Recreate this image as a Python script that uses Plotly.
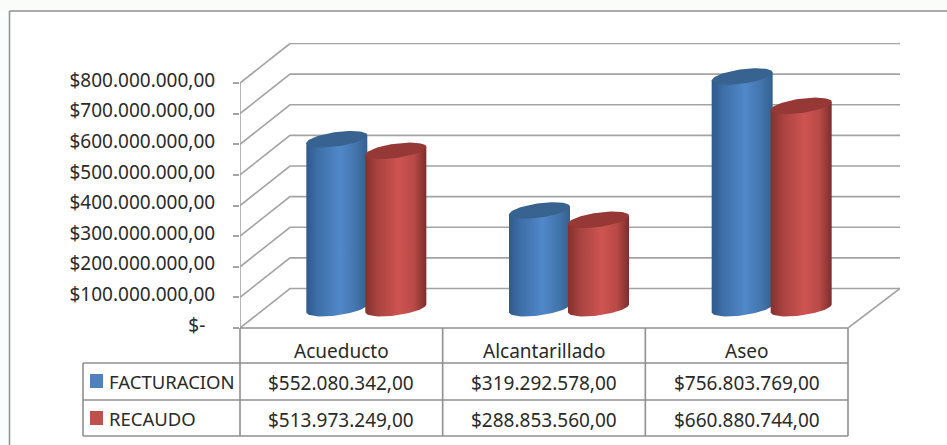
import numpy as np
import plotly.graph_objects as go

categories = ['Acueducto', 'Alcantarillado', 'Aseo']
facturacion = [552080342, 319292578, 756803769]
recaudo = [513973249, 288853560, 660880744]
tick_vals = [0, 100000000, 200000000, 300000000, 400000000,
             500000000, 600000000, 700000000, 800000000]

W, H = 947, 445
LEFT, RIGHT, TOP, FRONT = 240, 900, 43, 328    # plot box in pixels
FONT = 'Noto Sans'
TEXT_SIZE = 19
TEXT_COLOR = '#2a2a2a'
GRID = '#a3a3a3'
FRAME = '#8f8f8f'

# scales: 3 categories over the front edge, 800M over 245 px
X_PX = (848 - LEFT) / 3
Y_PX = 800000000 / 245
DEPTH_X = 50 / X_PX
DEPTH_Y = 39.5 * Y_PX
X_MAX = (RIGHT - LEFT) / X_PX
Y_MAX = (FRONT - TOP) * Y_PX


def money(v):
    s = f'{v:,.2f}'
    return '$' + s.replace(',', '#').replace('.', ',').replace('#', '.')


def paper_x(px):
    return (px - LEFT) / (RIGHT - LEFT)


def paper_y(py):
    return (FRONT - py) / (FRONT - TOP)


def cylinder(fig, center, value, name, shades, top_color):
    # bars stand at mid depth of the floor, ellipse tilted up to the right
    a = 30.5 / X_PX
    b = 7.2 * Y_PX
    tilt = 4.0 * Y_PX
    cx = center + DEPTH_X / 2
    base = DEPTH_Y / 2
    t = np.linspace(0, 2 * np.pi, 81)
    ex = a * np.cos(t)
    ey = b * np.sin(t) + tilt * np.cos(t)

    # lower half of the base ellipse (right to left), then up over the top
    lower = np.linspace(0, -np.pi, 41)
    body_x = cx + a * np.cos(lower)
    body_y = base + b * np.sin(lower) + tilt * np.cos(lower)
    body_x = np.concatenate([body_x, [cx - a, cx + a, cx + a]])
    body_y = np.concatenate([body_y, [base + value - tilt, base + value + tilt, base + tilt]])

    fig.add_trace(go.Scatter(
        x=body_x, y=body_y, mode='lines', name=name, fill='toself',
        line=dict(width=0), fillcolor=shades[2][1],
        fillgradient=dict(type='horizontal', colorscale=shades),
        hoverinfo='skip', showlegend=False
    ))
    fig.add_trace(go.Scatter(
        x=cx + ex, y=base + value + ey, mode='lines', name=name, fill='toself',
        line=dict(width=0), fillcolor=top_color,
        hoverinfo='skip', showlegend=False
    ))


blue_shades = [[0, '#2f5a8c'], [0.2, '#3e70a8'], [0.55, '#5088ca'],
               [0.8, '#4476ae'], [1, '#34608f']]
red_shades = [[0, '#84302f'], [0.2, '#a84340'], [0.55, '#ce5451'],
              [0.8, '#b84a47'], [1, '#7d2d2c']]

fig = go.Figure()

# walls and gridlines
grid_x, grid_y = [], []
for v in tick_vals:
    grid_x += [0, DEPTH_X, X_MAX, None]
    grid_y += [v, v + DEPTH_Y, v + DEPTH_Y, None]
grid_x += [0, 0, None, 3, X_MAX]
grid_y += [0, tick_vals[-1], None, 0, DEPTH_Y]
fig.add_trace(go.Scatter(
    x=grid_x, y=grid_y, mode='lines', line=dict(color=GRID, width=1.6),
    cliponaxis=False, hoverinfo='skip', showlegend=False
))

# cylinders
for i in range(len(categories)):
    offset = 29.5 / X_PX
    cylinder(fig, i + 0.5 - offset, facturacion[i], 'FACTURACION', blue_shades, '#38628f')
    cylinder(fig, i + 0.5 + offset, recaudo[i], 'RECAUDO', red_shades, '#953836')

# data table under the plot
row_y = [FRONT, 363, 400, 436]
col_x = [LEFT + X_PX * i for i in range(4)]
shapes = [
    dict(type='rect', xref='paper', yref='paper', x0=paper_x(0), x1=paper_x(9),
         y0=paper_y(0), y1=paper_y(H), fillcolor='#f9fdfd', line_width=0, layer='below'),
    dict(type='rect', xref='paper', yref='paper', x0=paper_x(0), x1=paper_x(W),
         y0=paper_y(0), y1=paper_y(10), fillcolor='#fafcfa', line_width=0, layer='below'),
    dict(type='line', xref='paper', yref='paper', x0=paper_x(9.5), x1=paper_x(9.5),
         y0=paper_y(11), y1=paper_y(H), line=dict(color=FRAME, width=1.5)),
    dict(type='line', xref='paper', yref='paper', x0=paper_x(9.5), x1=paper_x(W),
         y0=paper_y(11), y1=paper_y(11), line=dict(color=FRAME, width=1.5)),
]


def table_line(x0, y0, x1, y1):
    shapes.append(dict(type='line', xref='paper', yref='paper', x0=paper_x(x0), x1=paper_x(x1),
                       y0=paper_y(y0), y1=paper_y(y1), line=dict(color=FRAME, width=1.6)))


table_line(LEFT, row_y[0], col_x[3], row_y[0])
table_line(83, row_y[1], col_x[3], row_y[1])
table_line(83, row_y[2], col_x[3], row_y[2])
table_line(83, row_y[3], col_x[3], row_y[3])
table_line(83, row_y[1], 83, row_y[3])
for cx in col_x:
    table_line(cx, row_y[0], cx, row_y[3])

annotations = []


def cell(px, py, text, anchor='center', size=TEXT_SIZE):
    annotations.append(dict(
        x=paper_x(px), y=paper_y(py), xref='paper', yref='paper', text=text,
        showarrow=False, xanchor=anchor, yanchor='middle',
        font=dict(family=FONT, size=size, color=TEXT_COLOR)
    ))


for i, name in enumerate(categories):
    center = col_x[i] + X_PX / 2
    cell(center, 351, name)
    cell(center, 383, money(facturacion[i]))
    cell(center, 420, money(recaudo[i]))

# legend keys sit inside the table
for py, color, label in [(381, '#4f81bd', 'FACTURACION'), (418, '#c0504d', 'RECAUDO')]:
    shapes.append(dict(type='rect', xref='paper', yref='paper', x0=paper_x(90), x1=paper_x(103),
                       y0=paper_y(py - 7), y1=paper_y(py + 7), fillcolor=color, line_width=0))
    cell(107, py, label, anchor='left', size=18.5)

fig.update_layout(
    width=W,
    height=H,
    margin=dict(l=LEFT, r=W - RIGHT, t=TOP, b=H - FRONT, pad=0),
    paper_bgcolor='white',
    plot_bgcolor='white',
    showlegend=False,
    shapes=shapes,
    annotations=annotations,
    xaxis=dict(range=[0, X_MAX], visible=False, fixedrange=True),
    yaxis=dict(
        range=[0, Y_MAX],
        tickmode='array',
        tickvals=tick_vals,
        ticktext=['$-\u00a0\u00a0'] + [money(v) for v in tick_vals[1:]],
        ticks='outside',
        ticklen=6,
        tickwidth=1.6,
        tickcolor=GRID,
        ticklabelstandoff=14,
        ticklabelshift=-3,
        showgrid=False,
        zeroline=False,
        showline=False,
        tickfont=dict(family=FONT, size=TEXT_SIZE, color=TEXT_COLOR),
        fixedrange=True
    )
)

fig.write_html(
    'out.html',
    config={'displayModeBar': False},
    post_script="document.body.style.margin='0';document.body.style.overflow='hidden';"
)
